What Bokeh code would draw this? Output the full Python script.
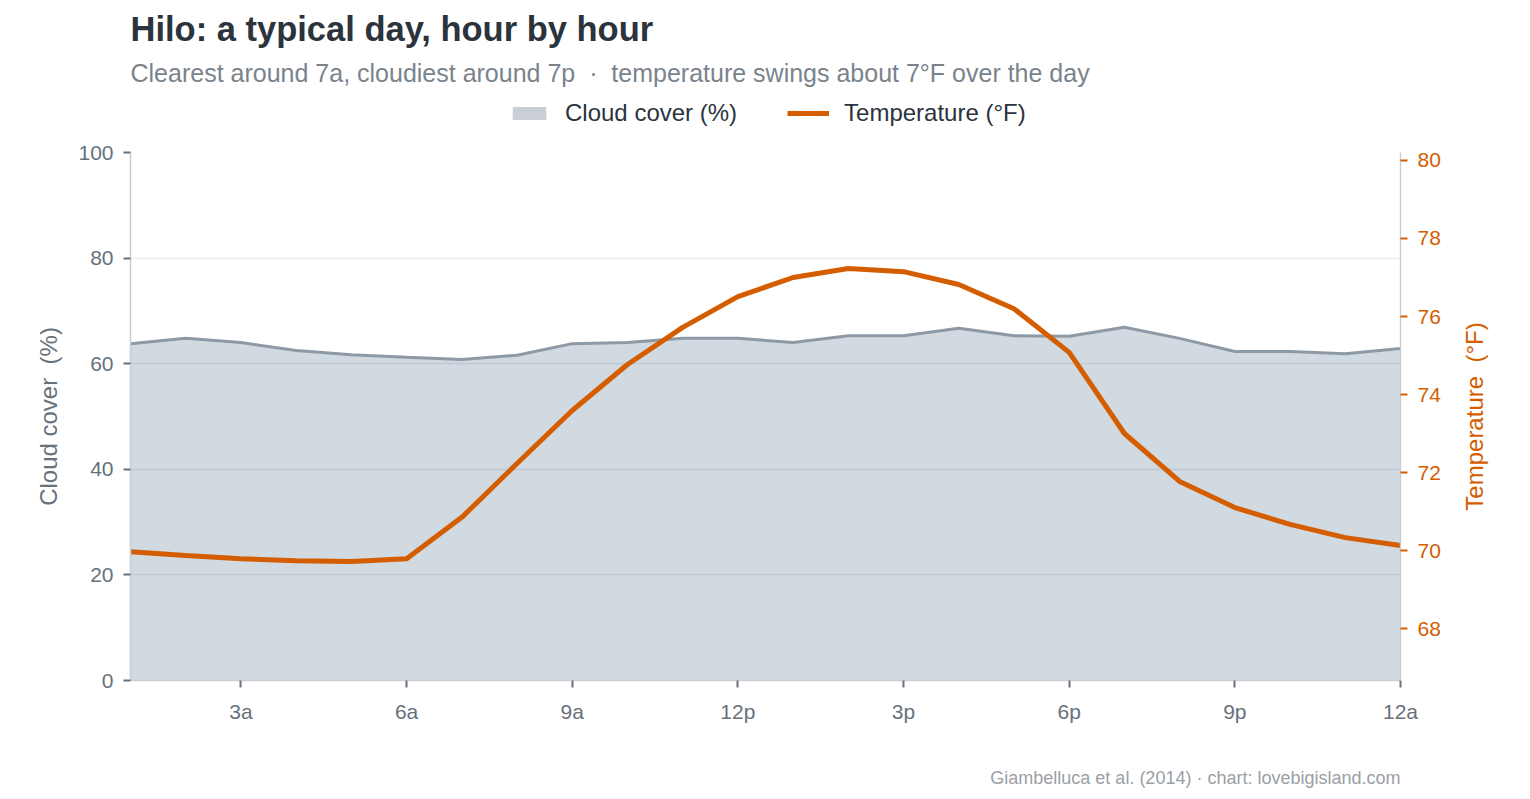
import math
from bokeh.plotting import figure
from bokeh.layouts import column
from bokeh.models import (Range1d, LinearAxis, FixedTicker, Legend, LegendItem, Label)
from bokeh.core.properties import value
from bokeh.embed import file_html
from bokeh.resources import INLINE

hours = list(range(1, 25))
cloud = [63.8, 64.8, 64.0, 62.5, 61.7, 61.2, 60.8, 61.6, 63.8, 64.0, 64.8, 64.8,
         64.0, 65.3, 65.3, 66.7, 65.3, 65.2, 66.9, 64.8, 62.3, 62.3, 61.9, 62.9]
temp = [69.97, 69.87, 69.79, 69.74, 69.72, 69.79, 70.85, 72.23, 73.59, 74.77, 75.72, 76.51,
        77.0, 77.23, 77.15, 76.82, 76.2, 75.08, 73.0, 71.77, 71.1, 70.67, 70.33, 70.13]
x_ticks = [3, 6, 9, 12, 15, 18, 21, 24]
x_labels = ["3a", "6a", "9a", "12p", "3p", "6p", "9p", "12a"]
cloud_ticks = [0, 20, 40, 60, 80, 100]
temp_ticks = [68, 70, 72, 74, 76, 78, 80]

title_text = "Hilo: a typical day, hour by hour"
subtitle_text = "Clearest around 7a, cloudiest around 7p \u00a0·\u00a0 temperature swings about 7°F over the day"
footer_text = "Giambelluca et al. (2014) · chart: lovebigisland.com"
temp_label = "Temperature \u00a0(°F)"

FONT = "Liberation Sans"
ORANGE = "#d45d00"
GRAYTXT = "#67717b"
AXLINE = "#c8ced4"
W = 1530
FL, FR = 130, 1400   # frame edges (frames of the stacked figures are aligned)

def blank(h):
    f = figure(width=W, height=h, x_range=Range1d(FL, FR), y_range=Range1d(0, h),
               output_backend="svg", toolbar_location=None, title=None,
               min_border=0, min_border_left=FL, min_border_right=W - FR,
               x_axis_type=None, y_axis_type=None)
    f.outline_line_color = None
    f.grid.visible = False
    return f

# ---------- header ----------
HEAD_H = 130
head = blank(HEAD_H)
head.text(x=[FL], y=[HEAD_H - 28], text=[title_text], text_font=value(FONT),
          text_font_size="34.5px", text_font_style="bold", text_color="#2b333c",
          text_baseline="middle", text_align="left")
head.text(x=[FL], y=[HEAD_H - 72], text=[subtitle_text], text_font=value(FONT),
          text_font_size="25px", text_color="#7a838c",
          text_baseline="middle", text_align="left")
# legend proxies (outside the header's visible range)
lg_area = head.varea(x=hours, y1=cloud, y2=cloud, fill_color="#c9cfd5")
lg_line = head.line(x=hours, y=temp, line_color=ORANGE, line_width=5)
legend = Legend(items=[LegendItem(label="Cloud cover (%)", renderers=[lg_area]),
                       LegendItem(label="Temperature (°F)", renderers=[lg_line])],
                orientation="horizontal", location=(378, 3),
                label_text_font=FONT, label_text_font_size="24px", label_text_color="#2b333c",
                glyph_width=42, glyph_height=16, label_standoff=15, spacing=50,
                padding=0, margin=0, border_line_color=None, background_fill_alpha=0)
head.add_layout(legend, "center")

# ---------- main plot ----------
MAIN_H = 622
p = figure(width=W, height=MAIN_H, x_range=Range1d(1, 24), y_range=Range1d(0, 100),
           output_backend="svg", toolbar_location=None, title=None,
           min_border_left=FL, min_border_right=W - FR, min_border_top=22, min_border_bottom=72)
p.outline_line_color = None
p.extra_y_ranges = {"temp": Range1d(66.667, 80.205)}

p.varea(x=hours, y1=0, y2=cloud, fill_color="#d1d9e1", level="image")
p.line(hours, cloud, line_color="#8d9aa5", line_width=3)
p.line(hours, temp, line_color=ORANGE, line_width=5, y_range_name="temp")

p.xgrid.visible = False
p.ygrid.ticker = FixedTicker(ticks=cloud_ticks)
p.ygrid.grid_line_color = "#1f2d3d"
p.ygrid.grid_line_alpha = 0.09
p.ygrid.grid_line_width = 1.5

def style_axis(ax, color, label_color):
    ax.axis_line_color = AXLINE
    ax.axis_line_width = 1.5
    ax.major_tick_line_color = color
    ax.major_tick_line_width = 2
    ax.major_tick_out = 7
    ax.major_tick_in = 0
    ax.minor_tick_line_color = None
    ax.major_label_text_font = FONT
    ax.major_label_text_font_size = "21px"
    ax.major_label_text_color = label_color
    ax.axis_label_text_font = FONT
    ax.axis_label_text_font_size = "24px"
    ax.axis_label_text_font_style = "normal"
    ax.axis_label_text_color = label_color

xa = p.xaxis[0]
xa.ticker = FixedTicker(ticks=x_ticks)
xa.major_label_overrides = {t: l for t, l in zip(x_ticks, x_labels)}
style_axis(xa, GRAYTXT, GRAYTXT)
xa.major_label_standoff = 12

ya = p.yaxis[0]
ya.ticker = FixedTicker(ticks=cloud_ticks)
ya.axis_label = "Cloud cover \u00a0(%)"
style_axis(ya, GRAYTXT, GRAYTXT)
ya.major_label_standoff = 10
ya.axis_label_standoff = 13

ra = LinearAxis(y_range_name="temp", ticker=FixedTicker(ticks=temp_ticks))
style_axis(ra, ORANGE, ORANGE)
ra.major_label_standoff = 10
p.add_layout(ra, "right")

# right-hand axis title, rotated to read bottom-to-top, centred on the frame
p.add_layout(Label(x=31, y=264, x_units="screen", y_units="screen", text=temp_label,
                   angle=math.pi / 2, text_align="center", text_baseline="middle",
                   text_font=FONT, text_font_size="24px", text_color=ORANGE), "right")

# ---------- footer ----------
FOOT_H = 799 - HEAD_H - MAIN_H
foot = blank(FOOT_H)
foot.text(x=[FR], y=[FOOT_H - 25], text=[footer_text], text_font=value(FONT),
          text_font_size="18px", text_color="#9aa0a6",
          text_baseline="middle", text_align="right")

open("out.html", "w").write(file_html(column(head, p, foot, spacing=0), INLINE))
